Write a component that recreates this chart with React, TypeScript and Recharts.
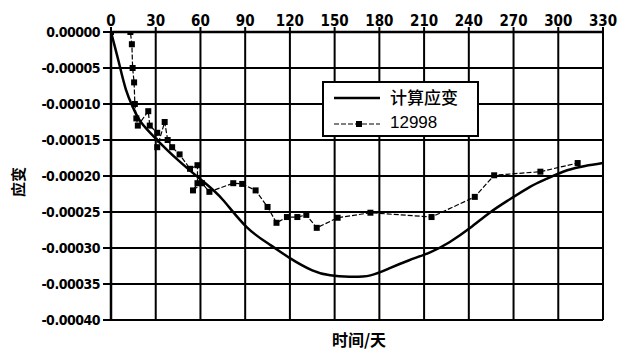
import { ComposedChart, Line, XAxis, YAxis, CartesianGrid } from 'recharts';

// 12998 measured strain
const measuredDays = [0, 13, 14, 14.5, 15.5, 16, 17, 18, 25, 26, 31, 31, 36, 38, 41, 46, 53, 58, 58, 55, 61, 66, 82, 88, 97, 105, 111, 118, 125, 131, 138, 152, 174, 215, 244, 257, 288, 313];
const measuredStrain = [0, 0, -0.000017, -0.00005, -0.00007, -0.0001, -0.00012, -0.00013, -0.00011, -0.00013, -0.00014, -0.00016, -0.000125, -0.00015, -0.00016, -0.00017, -0.00019, -0.000185, -0.00021, -0.00022, -0.00021, -0.000222, -0.00021, -0.000211, -0.00022, -0.000243, -0.000265, -0.000257, -0.000257, -0.000254, -0.000272, -0.000258, -0.000251, -0.000257, -0.000229, -0.000199, -0.000194, -0.000182];

// 计算应变
const calcDays = [0, 5, 10, 15, 20, 30, 45, 62, 75, 91, 107, 120, 135, 147, 160, 174, 187, 200, 214, 227, 241, 254, 267, 281, 292, 306, 318, 330];
const calcStrain = [0, -0.00004, -0.00008, -0.000106, -0.000125, -0.000148, -0.000178, -0.000208, -0.000233, -0.000271, -0.000296, -0.000314, -0.000331, -0.000338, -0.00034, -0.000338, -0.000328, -0.000317, -0.000306, -0.000292, -0.000272, -0.000251, -0.000233, -0.000215, -0.000204, -0.000192, -0.000186, -0.000182];

const xTicks = [0, 30, 60, 90, 120, 150, 180, 210, 240, 270, 300, 330];
const yTicks = [0, -0.00005, -0.0001, -0.00015, -0.0002, -0.00025, -0.0003, -0.00035, -0.0004];

const measured = measuredDays.map((day, i) => ({ day, v: measuredStrain[i] }));
const calc = calcDays.map((day, i) => ({ day, v: calcStrain[i] }));

const SquareDot = ({ cx, cy }: any) => {
  if (cx == null || cy == null) return null;
  return <rect x={cx - 3} y={cy - 3} width={6} height={6} fill="#000" />;
};

// legend box sits over the plot, like in the original figure
const LegendBox = () => (
  <div
    style={{
      position: 'absolute',
      left: 322,
      top: 81,
      width: 157,
      height: 56,
      border: '2px solid #000',
      background: '#fff',
      boxSizing: 'border-box',
    }}
  >
    <svg width={60} height={54} style={{ position: 'absolute', left: 0, top: 0 }}>
      <line x1={10} x2={56} y1={15} y2={15} stroke="#000" strokeWidth={2.5} />
      <line x1={10} x2={56} y1={41} y2={41} stroke="#000" strokeWidth={1.2} strokeDasharray="5 2" />
      <rect x={32} y={38} width={6} height={6} fill="#000" />
    </svg>
    <div style={{ position: 'absolute', left: 66, top: 3, fontFamily: '"Noto Sans CJK SC"', fontSize: 17, lineHeight: '22px', color: '#000', fontWeight: 500 }}>
      计算应变
    </div>
    <div style={{ position: 'absolute', left: 66, top: 30, fontFamily: '"Liberation Sans", Arial', fontSize: 17, lineHeight: '20px', color: '#000' }}>
      12998
    </div>
  </div>
);

const YTitle = () => (
  <text
    x={17}
    y={182}
    transform="rotate(-90, 17, 182)"
    textAnchor="middle"
    dominantBaseline="central"
    fontFamily='"Noto Sans CJK SC"'
    fontWeight={700}
    fontSize={15}
    fill="#000"
  >
    应变
  </text>
);

const XTitle = () => (
  <text
    x={359}
    y={339}
    textAnchor="middle"
    dominantBaseline="central"
    fontFamily='"Noto Sans CJK SC"'
    fontWeight={700}
    fontSize={16}
    fill="#000"
  >
    时间/天
  </text>
);

export default function App() {
  return (
    <div style={{ width: 619, height: 353, background: '#fff', position: 'relative' }}>
      <style>{'body{margin:0}'}</style>
      <ComposedChart width={619} height={353} margin={{ top: 0, right: 16, bottom: 33, left: 0 }}>
        <CartesianGrid stroke="#000" strokeWidth={2} />
        <XAxis
          type="number"
          dataKey="day"
          orientation="top"
          domain={[0, 330]}
          ticks={xTicks}
          height={32}
          axisLine={{ stroke: '#000', strokeWidth: 2.5 }}
          tickLine={{ stroke: '#000', strokeWidth: 2 }}
          tickSize={5}
          tickMargin={1}
          tick={{ fill: '#000', fontSize: 15, fontWeight: 700, fontFamily: '"DejaVu Sans Condensed"' }}
          allowDataOverflow
        />
        <YAxis
          type="number"
          dataKey="v"
          domain={[-0.0004, 0]}
          ticks={yTicks}
          width={111}
          axisLine={{ stroke: '#000', strokeWidth: 2.5 }}
          tickLine={{ stroke: '#000', strokeWidth: 2 }}
          tickSize={8}
          tickMargin={3}
          tickFormatter={(v: number) => v.toFixed(5)}
          tick={{ fill: '#000', fontSize: 14, fontWeight: 700, fontFamily: '"DejaVu Sans Condensed"', letterSpacing: -0.5 }}
          label={<YTitle />}
          allowDataOverflow
        />
        <Line
          data={calc}
          dataKey="v"
          type="natural"
          stroke="#000"
          strokeWidth={2.5}
          dot={false}
          name="计算应变"
          isAnimationActive={false}
        />
        <Line
          data={measured}
          dataKey="v"
          type="linear"
          stroke="#000"
          strokeWidth={1.2}
          strokeDasharray="5 2"
          dot={<SquareDot />}
          name="12998"
          isAnimationActive={false}
        />
        <XTitle />
      </ComposedChart>
      <LegendBox />
    </div>
  );
}
